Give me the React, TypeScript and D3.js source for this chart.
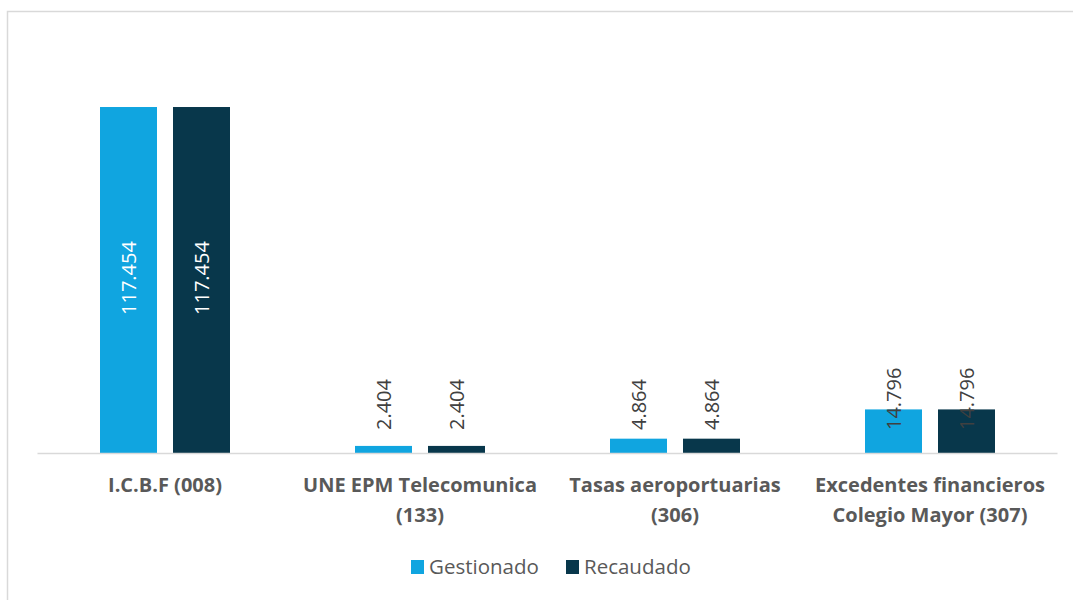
import React from "react";
import * as d3 from "d3";

const categories = [
  ["I.C.B.F (008)"],
  ["UNE EPM Telecomunica", "(133)"],
  ["Tasas aeroportuarias", "(306)"],
  ["Excedentes financieros", "Colegio Mayor (307)"],
];
const seriesNames = ["Gestionado", "Recaudado"];
const gestionado = [117454, 2404, 4864, 14796];
const recaudado = [117454, 2404, 4864, 14796];
const seriesColors = ["#10a5e0", "#08374b"];

export default function App() {
  const width = 1073;
  const height = 600;
  const left = 37.5;
  const right = 1057.5;
  const baseY = 453;
  const topY = 40.6;

  const x0 = d3.scaleBand<number>()
    .domain(categories.map((_, i) => i))
    .range([left, right]);
  const x1 = d3.scaleBand<number>()
    .domain([0, 1])
    .range([62.5, 62.5 + 130])
    .paddingInner(16 / 73);
  const y = d3.scaleLinear().domain([0, 140000]).range([baseY, topY]);

  const series = [gestionado, recaudado];
  const font = "'Open Sans', sans-serif";

  return (
    <svg width={width} height={height} style={{position: "absolute", left: 0, top: 0, background: "#fff"}}>
      <rect x={7.5} y={11.5} width={1100} height={700} fill="#fff" stroke="#d9d9d9" strokeWidth={1.5}/>
      {series.map((vals, s) => (
        <g key={s}>
          {vals.map((v, i) => {
            const bx = x0(i)! + x1(s)!;
            const bw = x1.bandwidth();
            const cx = bx + bw / 2;
            // big bars get the label inside, small ones above
            const inside = y(v) < baseY - 100;
            const label = (v / 1000).toFixed(3);
            return (
              <g key={i}>
                <rect x={bx} y={y(v)} width={bw} height={baseY - y(v)} fill={seriesColors[s]}/>
                {inside ? (
                  <text transform={`translate(${cx + 7},${(y(v) + baseY) / 2 - 2})rotate(-90)`}
                        textAnchor="middle" fill="#fff" fontFamily={font} fontSize={20}>
                    {label}
                  </text>
                ) : (
                  <text transform={`translate(${cx + 7},430)rotate(-90)`}
                        textAnchor="start" fill="#404040" fontFamily={font} fontSize={20}>
                    {label}
                  </text>
                )}
              </g>
            );
          })}
        </g>
      ))}
      <line x1={left} x2={right} y1={baseY + 0.5} y2={baseY + 0.5} stroke="#d9d9d9" strokeWidth={1.5}/>
      {categories.map((lines, i) => (
        <text key={i} x={x0(i)! + x0.bandwidth() / 2} y={492} textAnchor="middle"
              fill="#595959" fontFamily={font} fontWeight="bold" fontSize={20}>
          {lines.map((l, j) => (
            <tspan key={j} x={x0(i)! + x0.bandwidth() / 2} dy={j === 0 ? 0 : 30}>{l}</tspan>
          ))}
        </text>
      ))}
      {seriesNames.map((name, s) => {
        const lx = [411, 566][s];
        return (
          <g key={name}>
            <rect x={lx} y={560} width={13} height={14} fill={seriesColors[s]}/>
            <text x={lx + 18} y={574} fill="#595959" fontFamily={font} fontSize={20.5}>{name}</text>
          </g>
        );
      })}
    </svg>
  );
}
